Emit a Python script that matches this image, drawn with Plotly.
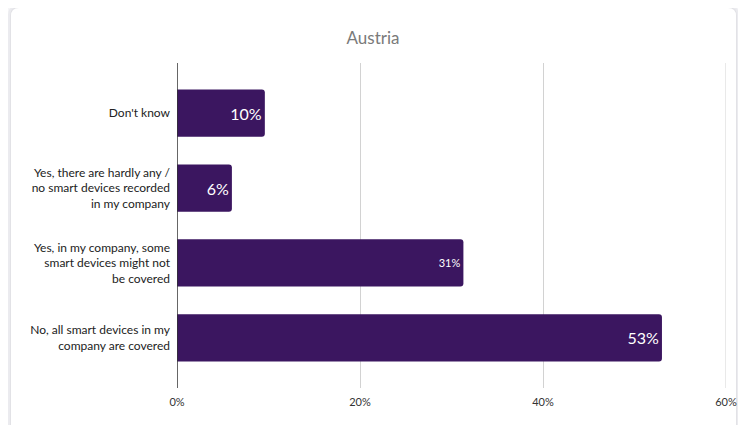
import plotly.graph_objects as go

categories = [
    "Don't know",
    "Yes, there are hardly any /<br>no smart devices recorded<br>in my company",
    "Yes, in my company, some<br>smart devices might not<br>be covered",
    "No, all smart devices in my<br>company are covered",
]
values = [9.6, 6.0, 31.3, 53.0]
labels = ["10%", "6%", "31%", "53%"]
label_sizes = [16, 16, 11, 16]
tick_vals = [0, 20, 40, 60]
tick_text = ["0%", "20%", "40%", "60%"]

# the page body has an 8px margin, so the figure is drawn 8px in from the window corner
OFF = 8
W, H = 746 - OFF, 425 - OFF
L, R, T, B = 177 - OFF, 20, 63 - OFF, 37
pw, ph = W - L - R, H - T - B

def px_x(p):
    return (p - OFF - L) / pw

def px_y(p):
    return (H - B - (p - OFF)) / ph

def rounded(x0, y0, x1, y1, r):
    X = px_x
    Y = px_y
    return (
        f"M {X(x0+r)},{Y(y0)} L {X(x1-r)},{Y(y0)} Q {X(x1)},{Y(y0)} {X(x1)},{Y(y0+r)} "
        f"L {X(x1)},{Y(y1-r)} Q {X(x1)},{Y(y1)} {X(x1-r)},{Y(y1)} "
        f"L {X(x0+r)},{Y(y1)} Q {X(x0)},{Y(y1)} {X(x0)},{Y(y1-r)} "
        f"L {X(x0)},{Y(y0+r)} Q {X(x0)},{Y(y0)} {X(x0+r)},{Y(y0)} Z"
    )

fig = go.Figure(
    go.Bar(
        x=values,
        y=categories,
        orientation="h",
        marker=dict(color="#3b1660", line=dict(width=0)),
        width=0.63,
        text=labels,
        textposition="inside",
        insidetextanchor="end",
        textfont=dict(color="white", size=label_sizes, family="Lato"),
        hoverinfo="skip",
        cliponaxis=False,
    )
)

fig.update_layout(
    width=W,
    height=H,
    margin=dict(l=L, r=R, t=T, b=B, autoexpand=False),
    paper_bgcolor="#f5f5f7",
    plot_bgcolor="rgba(0,0,0,0)",
    barcornerradius=3,
    showlegend=False,
    font=dict(family="Lato", color="#333333"),
    title=dict(
        text="Austria",
        x=(373 - OFF) / W,
        xref="container",
        xanchor="center",
        y=1 - (38 - OFF) / H,
        yref="container",
        yanchor="middle",
        font=dict(size=17, color="#7a7a7a", family="Lato"),
    ),
    xaxis=dict(
        range=[0, 60],
        tickvals=tick_vals,
        ticktext=tick_text,
        showgrid=True,
        gridcolor="#d2d2d2",
        gridwidth=1,
        zeroline=False,
        showline=False,
        tickfont=dict(size=11, color="#333333"),
        ticks="",
        ticklabelstandoff=6,
        fixedrange=True,
    ),
    yaxis=dict(
        range=[3.667, -0.667],
        showgrid=False,
        showline=False,
        zeroline=False,
        ticks="",
        tickfont=dict(size=12, color="#222222"),
        ticklabelstandoff=6,
        fixedrange=True,
    ),
    shapes=[
        dict(type="path", xref="paper", yref="paper", layer="below",
             path=rounded(8, 5, 739, 440, 11), fillcolor="#ebebef", line=dict(width=0)),
        dict(type="path", xref="paper", yref="paper", layer="below",
             path=rounded(10, 7, 737, 440, 9), fillcolor="#e2e2e6", line=dict(width=0)),
        dict(type="path", xref="paper", yref="paper", layer="below",
             path=rounded(11, 8, 736, 440, 8), fillcolor="#ffffff", line=dict(width=0)),
        dict(type="line", xref="x", yref="paper", x0=tick_vals[-1], x1=tick_vals[-1], y0=0, y1=1,
             line=dict(color="#d2d2d2", width=1), layer="below"),
        dict(type="line", xref="x", yref="paper", x0=0, x1=0, y0=0, y1=1,
             line=dict(color="#333333", width=1.5), layer="above"),
    ],
)

fig.write_html("out.html")
